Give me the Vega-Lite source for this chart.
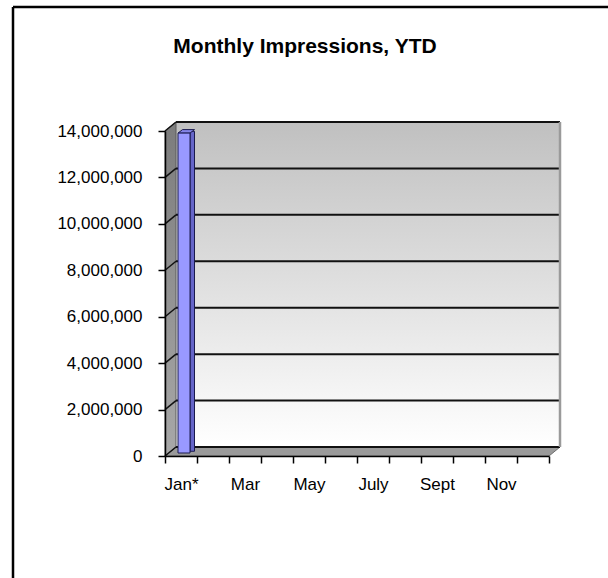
{
  "$schema": "https://vega.github.io/schema/vega-lite/v6.json",
  "width": 384,
  "height": 325,
  "autosize": {"type": "none"},
  "padding": {"left": 165, "top": 131, "right": 59, "bottom": 122},
  "background": "white",
  "config": {
    "view": {"stroke": null},
    "font": "Liberation Sans"
  },
  "title": {
    "text": "Monthly Impressions, YTD",
    "font": "Liberation Sans",
    "fontSize": 21,
    "fontWeight": "bold",
    "color": "black",
    "anchor": "middle",
    "frame": "group",
    "baseline": "alphabetic",
    "dx": -52,
    "offset": -68
  },
  "datasets": {
    "months": [
      {"month": "Jan*", "impressions": 13780000},
      {"month": "Feb", "impressions": null},
      {"month": "Mar", "impressions": null},
      {"month": "Apr", "impressions": null},
      {"month": "May", "impressions": null},
      {"month": "June", "impressions": null},
      {"month": "July", "impressions": null},
      {"month": "Aug", "impressions": null},
      {"month": "Sept", "impressions": null},
      {"month": "Oct", "impressions": null},
      {"month": "Nov", "impressions": null},
      {"month": "Dec", "impressions": null}
    ],
    "gridlines": [
      {"level": 0}, {"level": 2000000}, {"level": 4000000}, {"level": 6000000},
      {"level": 8000000}, {"level": 10000000}, {"level": 12000000}, {"level": 14000000}
    ],
    "single": [{}]
  },
  "layer": [
    {
      "description": "chart border (left edge), also carrying the axes",
      "data": {"name": "single"},
      "mark": {"type": "rule", "stroke": "black", "strokeWidth": 2.5, "xOffset": -152, "yOffset": -124, "y2Offset": 200},
      "encoding": {
        "x": {
          "datum": "Jan*", "bandPosition": 0, "type": "nominal",
          "scale": {"domain": ["Jan*","Feb","Mar","Apr","May","June","July","Aug","Sept","Oct","Nov","Dec"], "paddingInner": 0, "paddingOuter": 0},
          "axis": {
            "title": null, "zindex": 1, "tickBand": "extent", "labelAngle": 0,
            "labelExpr": "indexof(['Jan*','Mar','May','July','Sept','Nov'], datum.value) >= 0 ? datum.label : ''",
            "labelFont": "Liberation Sans", "labelFontSize": 17, "labelColor": "black", "labelPadding": 13,
            "tickSize": 7, "tickColor": "black", "tickWidth": 1.5,
            "domainColor": "black", "domainWidth": 1.5, "grid": false
          }
        },
        "y": {
          "datum": 14000000, "type": "quantitative",
          "scale": {"domain": [0, 14000000], "nice": false},
          "axis": {
            "title": null, "zindex": 1, "format": ",d",
            "values": [0, 2000000, 4000000, 6000000, 8000000, 10000000, 12000000, 14000000],
            "labelFont": "Liberation Sans", "labelFontSize": 17, "labelColor": "black", "labelPadding": 16,
            "tickSize": 7, "tickColor": "black", "tickWidth": 1.5,
            "domainColor": "black", "domainWidth": 1.5, "grid": false
          }
        },
        "y2": {"datum": 0}
      }
    },
    {
      "description": "chart border (top edge)",
      "data": {"name": "single"},
      "mark": {"type": "rule", "stroke": "black", "strokeWidth": 2.5, "xOffset": -152, "x2Offset": 100, "yOffset": -124},
      "encoding": {
        "x": {"datum": "Jan*", "bandPosition": 0, "type": "nominal"},
        "x2": {"datum": "Dec", "bandPosition": 1},
        "y": {"datum": 14000000, "type": "quantitative"}
      }
    },
    {
      "description": "back wall with its shaded fill",
      "data": {"name": "months"},
      "mark": {
        "type": "rect",
        "xOffset": 11, "x2Offset": 11, "yOffset": -9, "y2Offset": -9,
        "fill": {"gradient": "linear", "x1": 0, "y1": 0, "x2": 0, "y2": 1,
          "stops": [{"offset": 0, "color": "#c0c0c0"}, {"offset": 1, "color": "#ffffff"}]}
      },
      "encoding": {
        "x": {"field": "month", "type": "nominal", "sort": null},
        "y": {"datum": 0, "type": "quantitative"},
        "y2": {"datum": 14000000}
      }
    },
    {
      "description": "floor",
      "data": {"name": "single"},
      "mark": {"type": "point", "shape": "M0,0L384,0L395,-9L11,-9Z", "size": 4, "filled": true, "opacity": 1, "fill": "#9a9a9a", "stroke": "#6e6e6e", "strokeWidth": 1},
      "encoding": {
        "x": {"datum": "Jan*", "bandPosition": 0, "type": "nominal"},
        "y": {"datum": 0, "type": "quantitative"}
      }
    },
    {
      "description": "side wall",
      "data": {"name": "single"},
      "mark": {"type": "point", "shape": "M0,0L0,-325L11,-334L11,-9Z", "size": 4, "filled": true, "opacity": 1,
        "fill": {"gradient": "linear", "x1": 0, "y1": 0, "x2": 0, "y2": 1,
          "stops": [{"offset": 0, "color": "#7c7c7c"}, {"offset": 1, "color": "#a8a8a8"}]},
        "stroke": "#5a5a5a", "strokeWidth": 1},
      "encoding": {
        "x": {"datum": "Jan*", "bandPosition": 0, "type": "nominal"},
        "y": {"datum": 0, "type": "quantitative"}
      }
    },
    {
      "description": "gridlines on the back wall",
      "data": {"name": "gridlines"},
      "mark": {"type": "rule", "stroke": "#111111", "strokeWidth": 2, "xOffset": 11, "x2Offset": 11, "yOffset": -9},
      "encoding": {
        "x": {"datum": "Jan*", "bandPosition": 0, "type": "nominal"},
        "x2": {"datum": "Dec", "bandPosition": 1},
        "y": {"field": "level", "type": "quantitative"}
      }
    },
    {
      "description": "back wall right edge",
      "data": {"name": "single"},
      "mark": {"type": "rule", "stroke": "#9a9a9a", "strokeWidth": 2.5, "xOffset": 11, "yOffset": -9, "y2Offset": -9},
      "encoding": {
        "x": {"datum": "Dec", "bandPosition": 1, "type": "nominal"},
        "y": {"datum": 0, "type": "quantitative"},
        "y2": {"datum": 14000000}
      }
    },
    {
      "description": "gridlines carried across the side wall",
      "data": {"name": "gridlines"},
      "mark": {"type": "rule", "stroke": "#111111", "strokeWidth": 1.5, "x2Offset": 11, "y2Offset": -9},
      "encoding": {
        "x": {"datum": "Jan*", "bandPosition": 0, "type": "nominal"},
        "x2": {"datum": "Jan*", "bandPosition": 0},
        "y": {"field": "level", "type": "quantitative"},
        "y2": {"field": "level"}
      }
    },
    {
      "description": "column side face",
      "data": {"name": "months"},
      "mark": {"type": "bar", "width": 4.5, "xOffset": 11.25, "yOffset": -4.75, "y2Offset": -4.75, "fill": "#6565c8", "stroke": "#1a1a4d", "strokeWidth": 1},
      "encoding": {
        "x": {"field": "month", "type": "nominal", "sort": null},
        "y": {"field": "impressions", "type": "quantitative"}
      }
    },
    {
      "description": "column top face",
      "data": {"name": "months"},
      "mark": {"type": "point", "shape": "M-6,0L6,0L10.5,-3.5L-1.5,-3.5Z", "size": 4, "filled": true, "opacity": 1, "fill": "#8585e8", "stroke": "#1a1a4d", "strokeWidth": 1, "xOffset": 3, "yOffset": -3},
      "encoding": {
        "x": {"field": "month", "type": "nominal", "sort": null},
        "y": {"field": "impressions", "type": "quantitative"}
      }
    },
    {
      "description": "column front face",
      "data": {"name": "months"},
      "mark": {"type": "bar", "width": 12, "xOffset": 3, "yOffset": -3, "y2Offset": -3, "fill": "#9999ff", "stroke": "#1a1a4d", "strokeWidth": 1},
      "encoding": {
        "x": {"field": "month", "type": "nominal", "sort": null},
        "y": {"field": "impressions", "type": "quantitative"}
      }
    }
  ]
}
